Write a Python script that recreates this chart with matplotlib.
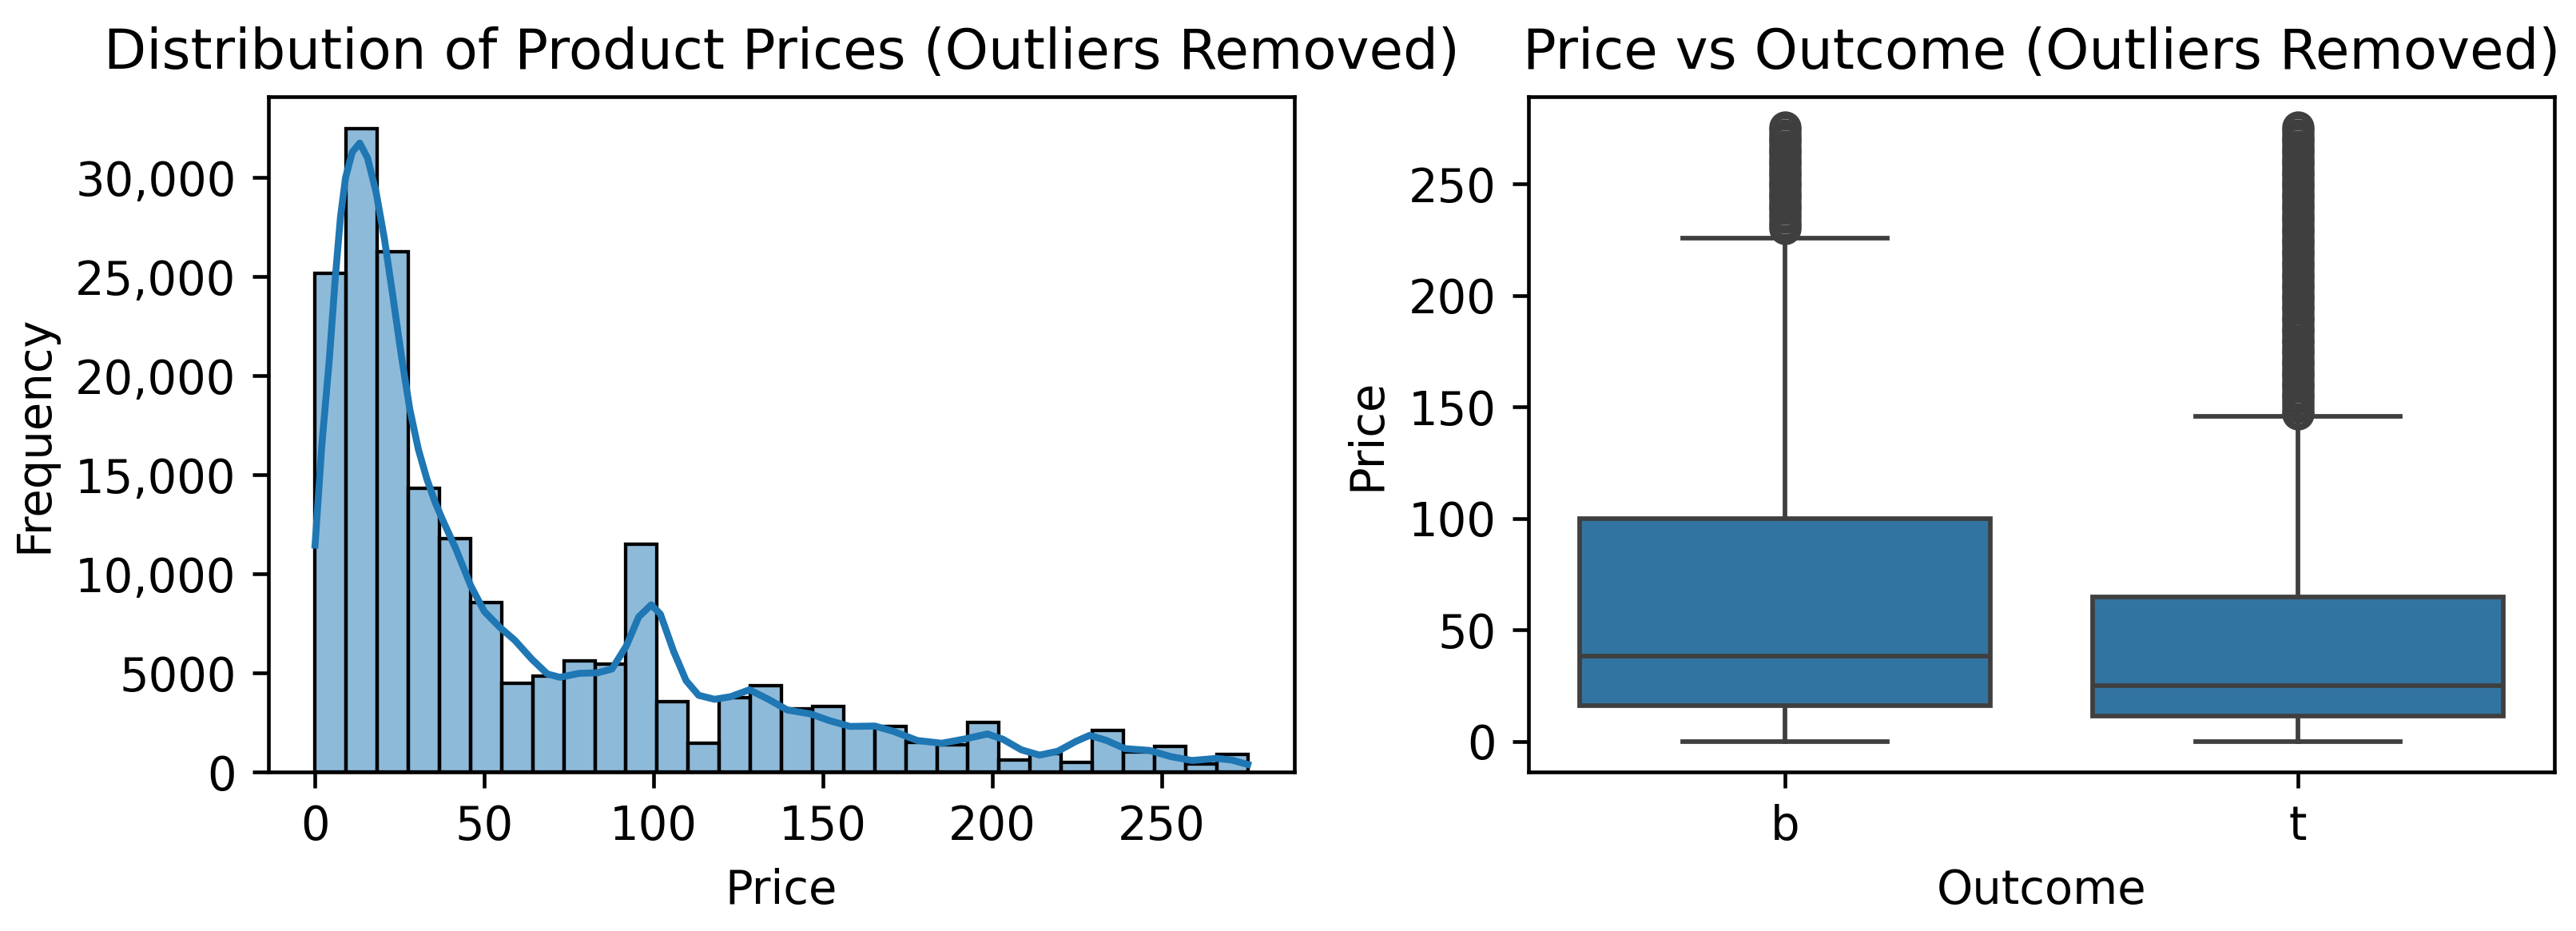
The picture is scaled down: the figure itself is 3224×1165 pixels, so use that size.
import numpy as np
import matplotlib
matplotlib.use("Agg")
import matplotlib.pyplot as plt

# ---------------- data ----------------
price_min = 0.0
price_max = 275.5
n_bins = 30
hist_counts = [25160, 32480, 26280, 14330, 11790, 8560, 4490, 4850, 5600, 5450,
               11505, 3560, 1450, 3750, 4340, 3200, 3290, 2330, 2285, 1478,
               1380, 2520, 595, 930, 500, 2110, 1010, 1280, 420, 900]

kde_x = [0, 2, 4.2, 6, 7.5, 9, 11, 13.2, 15.5, 18, 20.5, 23, 25.5, 28, 30.5, 33,
         35.5, 38, 41.5, 46, 50, 54.6, 59, 64, 68.6, 72.3, 78, 83.5, 87.7, 91.9,
         95.6, 99.3, 102, 105.9, 109.6, 113.3, 118, 122.7, 128.3, 133.9, 139.5,
         146.4, 151.8, 158, 165.3, 170.7, 177.9, 185.1, 192.3, 198.6, 203.2,
         208.6, 214, 219.4, 224.8, 228.8, 233.8, 239.2, 246.4, 252.7, 259,
         266.2, 270.7, 275.5]
kde_y = [11450, 16500, 20800, 25000, 28000, 30000, 31300, 31750, 31000, 29300,
         26900, 24000, 21000, 18300, 16300, 14800, 13600, 12600, 11300, 9400,
         8100, 7300, 6650, 5700, 4950, 4780, 4980, 5010, 5200, 6350, 7830, 8440,
         7970, 6090, 4610, 3870, 3670, 3800, 4150, 3670, 3130, 2930, 2600, 2300,
         2320, 2060, 1590, 1450, 1680, 1920, 1650, 1120, 850, 1050, 1550, 1850,
         1590, 1180, 1090, 780, 580, 685, 605, 380]

freq_ticks = [0, 5000, 10000, 15000, 20000, 25000, 30000]
freq_labels = ["0", "5000", "10,000", "15,000", "20,000", "25,000", "30,000"]
price_ticks = [0, 50, 100, 150, 200, 250]

outcomes = ["b", "t"]
box_whislo = [0.0, 0.0]
box_q1 = [16.0, 11.5]
box_med = [38.2, 24.8]
box_q3 = [100.0, 64.9]
box_whishi = [225.8, 145.6]
fliers_b = [230, 231.5, 233, 235, 237, 239, 240, 242, 244, 245, 247, 249, 250,
            252, 254, 255, 257, 259, 260, 262, 264, 265, 267, 269, 270, 272,
            274, 275.5]
fliers_t = [147, 148, 150, 152, 154, 155, 157, 159, 160, 162, 164, 165, 167,
            169, 170, 172, 174, 175, 177, 179, 180, 182, 184, 185, 187, 189,
            190, 192, 194, 195, 197, 199, 200, 202, 204, 205, 207, 209, 210,
            212, 214, 215, 217, 219, 220, 222, 224, 225, 227, 229, 230, 232,
            234, 235, 237, 239, 240, 242, 244, 245, 247, 249, 250, 252, 254,
            255, 257, 259, 260, 262, 264, 265, 267, 269, 270, 272, 274, 275.5]

# ---------------- figure ----------------
DPI = 415
plt.rcParams["font.family"] = ["DejaVu Sans"]
fig = plt.figure(figsize=(3224 / DPI, 1165 / DPI), dpi=DPI)

ax1 = fig.add_axes([0.1042, 0.1708, 0.5025 - 0.1042, 0.8964 - 0.1708])
ax2 = fig.add_axes([0.5934, 0.1708, 0.9916 - 0.5934, 0.8964 - 0.1708])

# histogram
edges = np.linspace(price_min, price_max, n_bins + 1)
centers = (edges[:-1] + edges[1:]) / 2
ax1.hist(centers, bins=edges, weights=hist_counts,
         color=(0.1216, 0.4667, 0.7059, 0.5), edgecolor="black", linewidth=0.75)
ax1.plot(kde_x, kde_y, color="#1f77b4", linewidth=1.5)
ax1.set_yticks(freq_ticks)
ax1.set_yticklabels(freq_labels)
ax1.set_xticks(price_ticks)
ax1.margins(x=0.05)
ax1.set_ylim(0, max(hist_counts) * 1.05)
ax1.set_xlabel("Price")
ax1.set_ylabel("Frequency")
ax1.set_title("Distribution of Product Prices (Outliers Removed)", fontsize=12)

# boxplot
line_c = "#3f3f3f"
stats = []
for i, name in enumerate(outcomes):
    stats.append(dict(label=name, whislo=box_whislo[i], q1=box_q1[i],
                      med=box_med[i], q3=box_q3[i], whishi=box_whishi[i],
                      fliers=[fliers_b, fliers_t][i]))
ax2.bxp(stats, positions=[0, 1], widths=0.8, patch_artist=True,
        capwidths=0.4,
        boxprops=dict(facecolor="#3274a1", edgecolor=line_c, linewidth=1.0),
        medianprops=dict(color=line_c, linewidth=1.0),
        whiskerprops=dict(color=line_c, linewidth=1.0),
        capprops=dict(color=line_c, linewidth=1.0),
        flierprops=dict(marker="o", markersize=6, markerfacecolor="none",
                        markeredgecolor=line_c, markeredgewidth=1.0))
ax2.set_xlim(-0.5, 1.5)
ax2.set_xticks([0, 1])
ax2.set_xticklabels(outcomes)
ax2.set_xlabel("Outcome")
ax2.set_ylabel("Price")
ax2.set_title("Price vs Outcome (Outliers Removed)", fontsize=12)

fig.savefig("out.png", dpi=DPI)
